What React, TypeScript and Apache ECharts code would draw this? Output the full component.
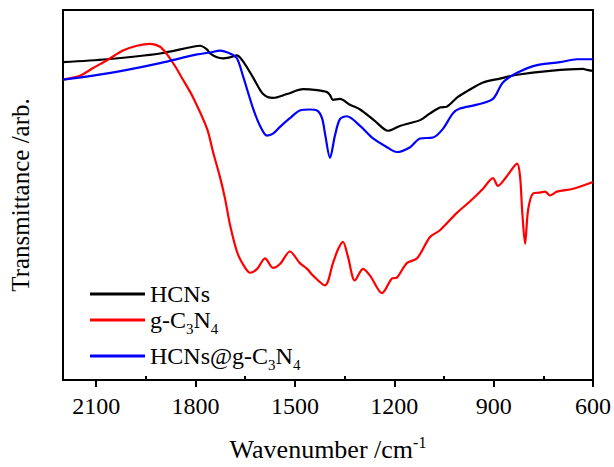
import React, { useEffect, useRef } from "react";
import * as echarts from "echarts";

const FONT = "'Liberation Serif', 'DejaVu Serif', serif";

const hcnsWn = [2200, 2067, 1907, 1808, 1786, 1765, 1756, 1735, 1717, 1696, 1675, 1651, 1626, 1596, 1566, 1524, 1475, 1433, 1403, 1394, 1385, 1364, 1334, 1303, 1258, 1219, 1183, 1152, 1122, 1092, 1062, 1041, 1008, 980, 932, 881, 829, 730, 630, 618, 600];
const hcnsT = [329, 332, 338, 345, 346, 342, 338, 334, 333, 334, 336, 327, 313, 296, 292, 296, 301, 300, 298, 295, 290, 291, 285, 280, 268, 258, 263, 266, 269, 276, 282, 283, 293, 299, 308, 312, 316, 320, 322, 321, 320];

const gcnWn = [2200, 2149, 2109, 2067, 2019, 1977, 1937, 1907, 1886, 1862, 1838, 1808, 1765, 1747, 1726, 1711, 1696, 1675, 1657, 1635, 1614, 1590, 1566, 1545, 1515, 1485, 1463, 1445, 1409, 1385, 1370, 1355, 1340, 1319, 1294, 1273, 1237, 1207, 1192, 1162, 1131, 1092, 1062, 1011, 971, 932, 902, 887, 860, 829, 820, 814, 805, 796, 781, 760, 745, 730, 709, 660, 600];
const gcnT = [311, 315, 323, 331, 341, 346, 348, 345, 337, 325, 311, 293, 260, 236, 210, 188, 161, 133, 120, 111, 115, 126, 116, 120, 133, 121, 115, 108, 98, 121, 135, 143, 128, 103, 115, 108, 90, 105, 106, 121, 126, 148, 155, 173, 185, 198, 209, 201, 211, 224, 210, 176, 141, 176, 193, 194, 195, 191, 195, 198, 205];

const compWn = [2200, 2109, 2007, 1907, 1795, 1756, 1726, 1696, 1675, 1657, 1626, 1605, 1584, 1566, 1545, 1515, 1485, 1454, 1433, 1418, 1409, 1394, 1379, 1364, 1343, 1303, 1264, 1222, 1192, 1152, 1122, 1083, 1053, 1023, 1002, 950, 902, 872, 829, 769, 700, 648, 600];
const compT = [311, 315, 321, 328, 337, 339, 341, 338, 333, 315, 281, 263, 253, 255, 262, 271, 279, 280, 279, 271, 255, 230, 253, 270, 273, 263, 250, 241, 236, 241, 250, 251, 260, 276, 281, 285, 291, 308, 318, 326, 329, 332, 332];

const majorTicks = [600, 900, 1200, 1500, 1800, 2100];
const minorTicks = [750, 1050, 1350, 1650, 1950];

const seriesNames = ["HCNs", "g-C3N4", "HCNs@g-C3N4"];
const legendLabels: Record<string, string> = {
  "HCNs": "{t|HCNs}",
  "g-C3N4": "{t|g-C}{s|3}{t|N}{s|4}",
  "HCNs@g-C3N4": "{t|HCNs@g-C}{s|3}{t|N}{s|4}",
};
const colors = ["#000000", "#ff0000", "#0000ff"];

function zip(xs: number[], ys: number[]) {
  return xs.map((x, i) => [x, ys[i]]);
}

export default function App() {
  const ref = useRef<HTMLDivElement>(null);
  useEffect(() => {
    if (!ref.current) return;
    const chart = echarts.init(ref.current, null, { renderer: "svg" });
    const rich = {
      t: { fontFamily: FONT, fontSize: 24, color: "#000", lineHeight: 26, verticalAlign: "middle" },
      s: { fontFamily: FONT, fontSize: 15, color: "#000", lineHeight: 32, verticalAlign: "bottom" },
    };
    const legendTops = [282, 308, 344];
    const option: any = {
      animation: false,
      backgroundColor: "#fff",
      grid: { left: 63, right: 21, top: 10, bottom: 74, show: true, borderColor: "#000", borderWidth: 2 },
      xAxis: [
        {
          type: "value",
          min: 600,
          max: 2200,
          inverse: true,
          position: "bottom",
          axisLine: { show: true, onZero: false, lineStyle: { color: "#000", width: 2 } },
          axisTick: { show: true, inside: false, length: 7, lineStyle: { color: "#000", width: 2 }, customValues: majorTicks },
          axisLabel: {
            show: true,
            customValues: majorTicks,
            color: "#000",
            fontFamily: FONT,
            fontSize: 24,
            margin: 14,
            formatter: (v: number) => String(v),
          },
          splitLine: { show: false },
          name: "{a|Wavenumber /cm}{b|-1}",
          nameLocation: "middle",
          nameGap: 54,
          nameTextStyle: {
            rich: {
              a: { fontFamily: FONT, fontSize: 26, color: "#000", lineHeight: 30 },
              b: { fontFamily: FONT, fontSize: 16, color: "#000", lineHeight: 30, verticalAlign: "top", padding: [0, 0, 12, 0] },
            },
          },
        },
        {
          type: "value",
          min: 600,
          max: 2200,
          inverse: true,
          position: "bottom",
          offset: 0,
          axisLine: { show: false, onZero: false },
          axisTick: { show: true, inside: true, length: 4, lineStyle: { color: "#000", width: 2 }, customValues: minorTicks },
          axisLabel: { show: true, customValues: minorTicks, formatter: () => "" },
          splitLine: { show: false },
        },
      ],
      yAxis: {
        type: "value",
        min: 0,
        max: 383,
        axisLine: { show: true, lineStyle: { color: "#000", width: 2 } },
        axisTick: { show: false },
        axisLabel: { show: false },
        splitLine: { show: false },
        name: "Transmittance /arb.",
        nameLocation: "middle",
        nameGap: 30,
        nameTextStyle: { fontFamily: FONT, fontSize: 25, color: "#000" },
      },
      legend: seriesNames.map((n, i) => ({
        data: [n],
        orient: "vertical",
        left: 90,
        top: legendTops[i],
        icon: "rect",
        itemWidth: 55,
        itemHeight: 3,
        itemGap: 0,
        padding: 0,
        formatter: (name: string) => legendLabels[name],
        textStyle: { rich, padding: [0, 0, 0, 0] },
      })),
      series: [
        { name: "HCNs", data: zip(hcnsWn, hcnsT) },
        { name: "g-C3N4", data: zip(gcnWn, gcnT) },
        { name: "HCNs@g-C3N4", data: zip(compWn, compT) },
      ].map((s, i) => ({
        ...s,
        type: "line",
        smooth: 0.3,
        showSymbol: false,
        symbol: "none",
        color: colors[i],
        lineStyle: { color: colors[i], width: 2.2 },
        xAxisIndex: 0,
      })),
    };
    chart.setOption(option);
    return () => chart.dispose();
  }, []);
  return <div ref={ref} style={{ width: 614, height: 467, position: "absolute", left: 0, top: 0 }} />;
}
